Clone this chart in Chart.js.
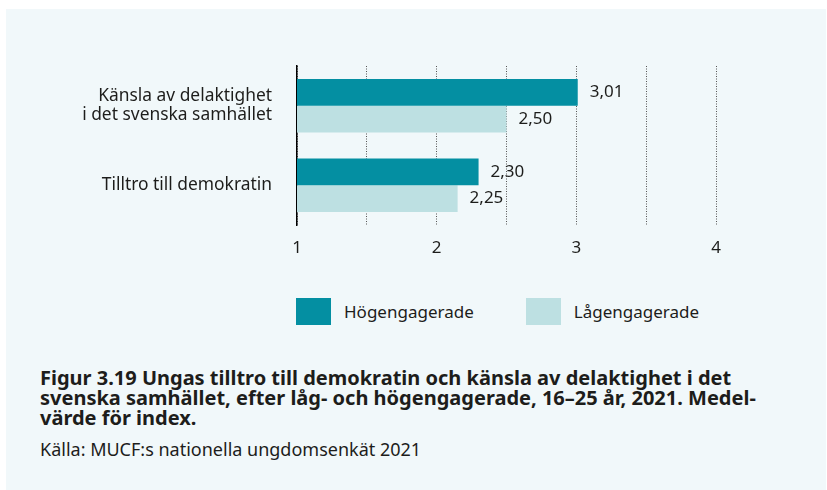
<!DOCTYPE html>
<html>
<head>
<meta charset="utf-8">
<script src="https://cdn.jsdelivr.net/npm/chart.js@4.4.1/dist/chart.umd.min.js"></script>
<style>
  html, body { margin: 0; padding: 0; background: #fff; }
  body { width: 827px; height: 490px; position: relative; overflow: hidden; font-family: "Noto Sans", sans-serif; color: #1d1d1b; }
  #panel { position: absolute; left: 6px; top: 9px; right: 1px; bottom: 0; background: #f1f8fa; }
  #wrap { position: absolute; left: 0; top: 0; width: 827px; height: 290px; }
  #legend { position: absolute; left: 296px; top: 298px; display: flex; gap: 52px; }
  #legend .item { display: flex; align-items: center; font-size: 17px; }
  #legend .box { width: 35px; height: 27px; margin-right: 13px; }
  #caption { position: absolute; left: 40px; top: 368px; width: 785px; font-weight: 700; font-size: 20px; line-height: 20px; }
  #source { position: absolute; left: 40px; top: 439px; font-size: 18px; line-height: 20px; }
</style>
</head>
<body>
<div id="panel"></div>
<div id="wrap"><canvas id="chart"></canvas></div>
<div id="legend"></div>
<div id="caption">Figur 3.19 Ungas tilltro till demokratin och känsla av delaktighet i det<br>svenska samhället, efter låg- och högengagerade, 16–25 år, 2021. Medel-<br>värde för index.</div>
<div id="source">Källa: MUCF:s nationella ungdomsenkät 2021</div>
<script>
const categories = [['Känsla av delaktighet', 'i det svenska samhället'], 'Tilltro till demokratin'];
const seriesNames = ['Högengagerade', 'Lågengagerade'];
const hogValues = [3.01, 2.30];
const lagValues = [2.50, 2.15];
const hogLabels = ['3,01', '2,30'];
const lagLabels = ['2,50', '2,25'];
const xTicks = ['1', '2', '3', '4'];
const colors = ['#048fa2', '#bde0e2'];

const valueLabels = {
  id: 'valueLabels',
  afterDatasetsDraw(chart) {
    const ctx = chart.ctx;
    const texts = [hogLabels, lagLabels];
    ctx.save();
    ctx.font = '17px "Noto Sans"';
    ctx.fillStyle = '#1d1d1b';
    ctx.textBaseline = 'middle';
    ctx.textAlign = 'left';
    chart.data.datasets.forEach((ds, i) => {
      chart.getDatasetMeta(i).data.forEach((bar, j) => {
        ctx.fillText(texts[i][j], bar.x + 12, bar.y);
      });
    });
    ctx.restore();
  }
};

// legend built from the chart's own legend items
const htmlLegend = {
  id: 'htmlLegend',
  afterUpdate(chart) {
    const box = document.getElementById('legend');
    box.innerHTML = '';
    chart.options.plugins.legend.labels.generateLabels(chart).forEach(item => {
      const el = document.createElement('div');
      el.className = 'item';
      const sw = document.createElement('span');
      sw.className = 'box';
      sw.style.background = item.fillStyle;
      el.appendChild(sw);
      el.appendChild(document.createTextNode(item.text));
      box.appendChild(el);
    });
  }
};

new Chart(document.getElementById('chart'), {
  type: 'bar',
  data: {
    labels: categories,
    datasets: [
      { label: seriesNames[0], data: hogValues, backgroundColor: colors[0] },
      { label: seriesNames[1], data: lagValues, backgroundColor: colors[1] }
    ]
  },
  options: {
    indexAxis: 'y',
    responsive: true,
    maintainAspectRatio: false,
    animation: false,
    datasets: { bar: { categoryPercentage: 0.67, barPercentage: 1 } },
    layout: { padding: { top: 66, left: 0, right: 111, bottom: 0 } },
    plugins: { legend: { display: false }, tooltip: { enabled: false } },
    scales: {
      x: {
        min: 1, max: 4,
        afterFit: s => { s.height = 65; },
        ticks: {
          stepSize: 0.5,
          padding: 13,
          color: '#1d1d1b',
          font: { family: 'Noto Sans', size: 17 },
          maxRotation: 0,
          callback: v => Number.isInteger(v) ? xTicks[v - 1] : ''
        },
        grid: { color: '#555', lineWidth: 1, drawTicks: false },
        border: { display: false, dash: [1, 1.5] }
      },
      y: {
        afterFit: s => { s.width = 297; },
        ticks: {
          padding: 25,
          color: '#1d1d1b',
          font: { family: 'Noto Sans', size: 17.4, lineHeight: 1.12 }
        },
        grid: { display: false, drawTicks: false },
        border: { display: true, color: '#000', width: 1.5 }
      }
    }
  },
  plugins: [valueLabels, htmlLegend]
});
</script>
</body>
</html>
